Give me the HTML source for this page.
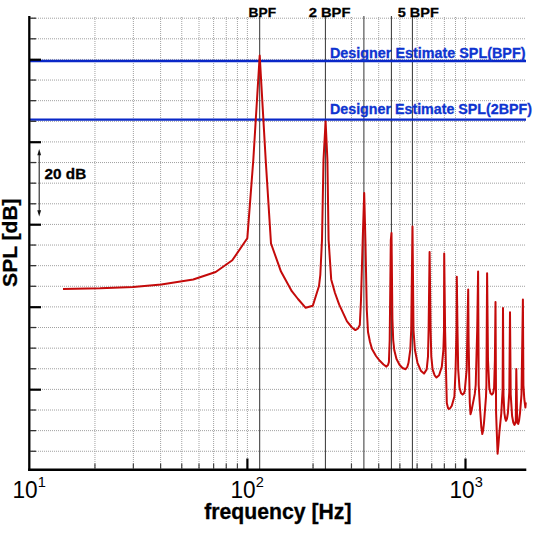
<!DOCTYPE html>
<html><head><meta charset="utf-8"><title>SPL spectrum</title>
<style>
html,body{margin:0;padding:0;background:#fff;}
body{width:533px;height:533px;overflow:hidden;font-family:"Liberation Sans",sans-serif;}
svg{display:block;}
text{font-family:"Liberation Sans",sans-serif;}
</style></head><body>
<svg width="533" height="533" viewBox="0 0 533 533">
<rect width="533" height="533" fill="#fff"/>

<g stroke="#a0a0a0" stroke-width="1" stroke-dasharray="1 1" fill="none">
<line x1="30" y1="18.19" x2="525" y2="18.19"/>
<line x1="30" y1="38.81" x2="525" y2="38.81"/>
<line x1="30" y1="59.43" x2="525" y2="59.43"/>
<line x1="30" y1="80.06" x2="525" y2="80.06"/>
<line x1="30" y1="100.68" x2="525" y2="100.68"/>
<line x1="30" y1="121.30" x2="525" y2="121.30"/>
<line x1="30" y1="141.92" x2="525" y2="141.92"/>
<line x1="30" y1="162.55" x2="525" y2="162.55"/>
<line x1="30" y1="183.17" x2="525" y2="183.17"/>
<line x1="30" y1="203.79" x2="525" y2="203.79"/>
<line x1="30" y1="224.41" x2="525" y2="224.41"/>
<line x1="30" y1="245.04" x2="525" y2="245.04"/>
<line x1="30" y1="265.66" x2="525" y2="265.66"/>
<line x1="30" y1="286.28" x2="525" y2="286.28"/>
<line x1="30" y1="306.90" x2="525" y2="306.90"/>
<line x1="30" y1="327.53" x2="525" y2="327.53"/>
<line x1="30" y1="348.15" x2="525" y2="348.15"/>
<line x1="30" y1="368.77" x2="525" y2="368.77"/>
<line x1="30" y1="389.39" x2="525" y2="389.39"/>
<line x1="30" y1="410.02" x2="525" y2="410.02"/>
<line x1="30" y1="430.64" x2="525" y2="430.64"/>
<line x1="30" y1="451.26" x2="525" y2="451.26"/>
<line x1="94.95" y1="17" x2="94.95" y2="469"/>
<line x1="133.36" y1="17" x2="133.36" y2="469"/>
<line x1="160.61" y1="17" x2="160.61" y2="469"/>
<line x1="181.75" y1="17" x2="181.75" y2="469"/>
<line x1="199.01" y1="17" x2="199.01" y2="469"/>
<line x1="213.62" y1="17" x2="213.62" y2="469"/>
<line x1="226.26" y1="17" x2="226.26" y2="469"/>
<line x1="237.42" y1="17" x2="237.42" y2="469"/>
<line x1="247.40" y1="17" x2="247.40" y2="469"/>
<line x1="313.05" y1="17" x2="313.05" y2="469"/>
<line x1="351.46" y1="17" x2="351.46" y2="469"/>
<line x1="378.71" y1="17" x2="378.71" y2="469"/>
<line x1="399.85" y1="17" x2="399.85" y2="469"/>
<line x1="417.11" y1="17" x2="417.11" y2="469"/>
<line x1="431.72" y1="17" x2="431.72" y2="469"/>
<line x1="444.36" y1="17" x2="444.36" y2="469"/>
<line x1="455.52" y1="17" x2="455.52" y2="469"/>
<line x1="465.50" y1="17" x2="465.50" y2="469"/>
</g>
<g stroke="#333" stroke-width="1">
<line x1="259.70" y1="16" x2="259.70" y2="469"/>
<line x1="325.40" y1="16" x2="325.40" y2="469"/>
<line x1="363.90" y1="16" x2="363.90" y2="469"/>
<line x1="391.40" y1="16" x2="391.40" y2="469"/>
<line x1="412.40" y1="16" x2="412.40" y2="469"/>
</g>
<g stroke="#0a28c8" stroke-width="2.4">
<line x1="30" y1="61" x2="526" y2="61"/>
<line x1="30" y1="119.6" x2="526" y2="119.6"/>
</g>
<polyline fill="none" stroke="#c40a0a" stroke-width="2.0" stroke-linejoin="round" stroke-linecap="butt" points="63,288.9 100,288.3 133.2,287 161.3,284.4 193.2,279.5 215.7,272 232.3,260.3 247.3,238.3 253.3,160 259.7,55.5 265.7,160 271,243.5 281,271.6 291.8,291.2 298,299 305.7,307.8 312.8,305.7 319,286 320.3,275 322,240 323.5,160 325.6,121.4 327.4,160 328.6,240 331.2,279.4 335,293 339.1,304.4 347,321.4 352,327.5 355.4,330.1 358,328.5 359.8,325 361,300 362.7,240 364.2,193.1 365.4,240 366.8,310 368,332 370,342 372,349 376,356 379.8,360.8 383.5,364.5 386.4,366.6 388,365 388.9,362 389.7,340 390.8,240 391.5,233 392.4,318.8 393.2,340 394.3,350.3 396.5,359 399.5,364.8 402.5,368 405.6,369.2 407.3,367 408.5,362.8 410.3,349.7 411.2,330 412.5,226.5 413.5,330 414.9,349.7 417.5,362.8 420.8,370.7 424,373.6 426.7,369.4 428,356.3 428.6,330 429.6,251.9 430.6,330 431.3,356.3 432.6,369.4 434.6,375.3 436.5,377.5 439.1,375.3 441.8,366.8 443.4,349.7 444,330 444.2,253.5 445.1,330 446,369.4 446.8,403.1 448,408 448.9,409 450.3,408 451.8,405.8 454.4,396.6 455.6,369.4 456.5,330 456.8,276.8 457.5,330 458.2,369.4 459.5,387.8 461,393 462.6,394.6 464,393.2 464.8,390.4 466.7,369.4 467.4,330 468.2,289.5 468.6,340 469.3,380 469.8,403 470.5,414.3 471.3,411.5 472.2,407.1 474.8,393.9 475.7,385 477.2,330 478.1,271.5 478.7,385 480.1,409.7 481.3,427 482.3,434 483.2,430 484,422.8 486,396.6 486.4,385 487.1,273.2 488,360 489.3,388 490.5,393.2 491.9,394.6 493.2,393 494.1,388 494.9,360 495.5,302 496.1,413 497,438 497.6,453.7 498.4,445 499.4,432 501.3,413.1 502.6,390 503,308 503.5,395 504.4,413.1 505.2,418.5 506,420.8 507,418.5 507.9,413 509.3,392 510,312.3 510.7,394.4 512.1,416 513.3,422.5 514.4,424.9 515.2,423.5 515.8,420.6 516.3,369 517.2,422.5 518.2,424 519,421 520,413.1 521.5,394.4 522.9,299.4 523.4,385 524.3,399 525.4,407.5 525.8,402.5"/>
<g stroke="#000" fill="none">
<line x1="29.3" y1="16" x2="29.3" y2="471" stroke-width="2.3"/>
<line x1="28.2" y1="469.7" x2="526.3" y2="469.7" stroke-width="2.4"/>
<line x1="30" y1="18.19" x2="36" y2="18.19" stroke-width="1.3" stroke="#333"/>
<line x1="30" y1="38.81" x2="36" y2="38.81" stroke-width="1.3" stroke="#333"/>
<line x1="30" y1="59.73" x2="41" y2="59.73" stroke-width="2.2"/>
<line x1="30" y1="80.06" x2="36" y2="80.06" stroke-width="1.3" stroke="#333"/>
<line x1="30" y1="100.68" x2="36" y2="100.68" stroke-width="1.3" stroke="#333"/>
<line x1="30" y1="121.30" x2="36" y2="121.30" stroke-width="1.3" stroke="#333"/>
<line x1="30" y1="142.22" x2="41" y2="142.22" stroke-width="2.2"/>
<line x1="30" y1="162.55" x2="36" y2="162.55" stroke-width="1.3" stroke="#333"/>
<line x1="30" y1="183.17" x2="36" y2="183.17" stroke-width="1.3" stroke="#333"/>
<line x1="30" y1="203.79" x2="36" y2="203.79" stroke-width="1.3" stroke="#333"/>
<line x1="30" y1="224.71" x2="41" y2="224.71" stroke-width="2.2"/>
<line x1="30" y1="245.04" x2="36" y2="245.04" stroke-width="1.3" stroke="#333"/>
<line x1="30" y1="265.66" x2="36" y2="265.66" stroke-width="1.3" stroke="#333"/>
<line x1="30" y1="286.28" x2="36" y2="286.28" stroke-width="1.3" stroke="#333"/>
<line x1="30" y1="307.20" x2="41" y2="307.20" stroke-width="2.2"/>
<line x1="30" y1="327.53" x2="36" y2="327.53" stroke-width="1.3" stroke="#333"/>
<line x1="30" y1="348.15" x2="36" y2="348.15" stroke-width="1.3" stroke="#333"/>
<line x1="30" y1="368.77" x2="36" y2="368.77" stroke-width="1.3" stroke="#333"/>
<line x1="30" y1="389.69" x2="41" y2="389.69" stroke-width="2.2"/>
<line x1="30" y1="410.02" x2="36" y2="410.02" stroke-width="1.3" stroke="#333"/>
<line x1="30" y1="430.64" x2="36" y2="430.64" stroke-width="1.3" stroke="#333"/>
<line x1="30" y1="451.26" x2="36" y2="451.26" stroke-width="1.3" stroke="#333"/>
<line x1="94.95" y1="463.5" x2="94.95" y2="469" stroke-width="1.2" stroke="#444"/>
<line x1="133.36" y1="463.5" x2="133.36" y2="469" stroke-width="1.2" stroke="#444"/>
<line x1="160.61" y1="463.5" x2="160.61" y2="469" stroke-width="1.2" stroke="#444"/>
<line x1="181.75" y1="463.5" x2="181.75" y2="469" stroke-width="1.2" stroke="#444"/>
<line x1="199.01" y1="463.5" x2="199.01" y2="469" stroke-width="1.2" stroke="#444"/>
<line x1="213.62" y1="463.5" x2="213.62" y2="469" stroke-width="1.2" stroke="#444"/>
<line x1="226.26" y1="463.5" x2="226.26" y2="469" stroke-width="1.2" stroke="#444"/>
<line x1="237.42" y1="463.5" x2="237.42" y2="469" stroke-width="1.2" stroke="#444"/>
<line x1="247.40" y1="458.5" x2="247.40" y2="469" stroke-width="2.2"/>
<line x1="313.05" y1="463.5" x2="313.05" y2="469" stroke-width="1.2" stroke="#444"/>
<line x1="351.46" y1="463.5" x2="351.46" y2="469" stroke-width="1.2" stroke="#444"/>
<line x1="378.71" y1="463.5" x2="378.71" y2="469" stroke-width="1.2" stroke="#444"/>
<line x1="399.85" y1="463.5" x2="399.85" y2="469" stroke-width="1.2" stroke="#444"/>
<line x1="417.11" y1="463.5" x2="417.11" y2="469" stroke-width="1.2" stroke="#444"/>
<line x1="431.72" y1="463.5" x2="431.72" y2="469" stroke-width="1.2" stroke="#444"/>
<line x1="444.36" y1="463.5" x2="444.36" y2="469" stroke-width="1.2" stroke="#444"/>
<line x1="455.52" y1="463.5" x2="455.52" y2="469" stroke-width="1.2" stroke="#444"/>
<line x1="465.50" y1="458.5" x2="465.50" y2="469" stroke-width="2.2"/>
</g>
<g stroke="#222" stroke-width="1.1" fill="#111"><line x1="39.2" y1="153" x2="39.2" y2="212.5"/>
<path d="M39.2 148.9 L41.1 155.3 L37.3 155.3 Z" stroke="none"/>
<path d="M39.2 216.6 L41.1 210.2 L37.3 210.2 Z" stroke="none"/></g>
<g font-weight="bold" fill="#000" stroke="#000" stroke-width="0.3">
<text x="248.6" y="17.3" font-size="13.5" textLength="27.4" lengthAdjust="spacingAndGlyphs">BPF</text>
<text x="308.7" y="17.3" font-size="13.5" textLength="41.7" lengthAdjust="spacingAndGlyphs">2 BPF</text>
<text x="397.8" y="17.3" font-size="13.5" textLength="41" lengthAdjust="spacingAndGlyphs">5 BPF</text>
<text x="44.6" y="179.4" font-size="14" textLength="41.6" lengthAdjust="spacingAndGlyphs">20 dB</text>
<text x="204.2" y="518.9" font-size="21.5" textLength="147.3" lengthAdjust="spacingAndGlyphs">frequency [Hz]</text>
<text transform="translate(16.6 286.9) rotate(-90)" font-size="21" textLength="88.5" lengthAdjust="spacingAndGlyphs">SPL [dB]</text>
</g>
<g font-weight="bold" fill="#0e34d0" stroke="#0e34d0" stroke-width="0.3">
<text x="330" y="57.5" font-size="14" textLength="195.5" lengthAdjust="spacingAndGlyphs">Designer Estimate SPL(BPF)</text>
<text x="330" y="113.8" font-size="14" textLength="202" lengthAdjust="spacingAndGlyphs">Designer Estimate SPL(2BPF)</text>
</g>
<g fill="#000">
<text x="12.5" y="498" font-size="24.8" textLength="25.2" lengthAdjust="spacingAndGlyphs">10</text>
<text x="37.7" y="486.7" font-size="14.6">1</text>
<text x="230.5" y="498" font-size="24.8" textLength="25.2" lengthAdjust="spacingAndGlyphs">10</text>
<text x="255.7" y="486.7" font-size="14.6">2</text>
<text x="449.5" y="498" font-size="24.8" textLength="25.2" lengthAdjust="spacingAndGlyphs">10</text>
<text x="474.7" y="486.7" font-size="14.6">3</text>
</g>
</svg></body></html>
